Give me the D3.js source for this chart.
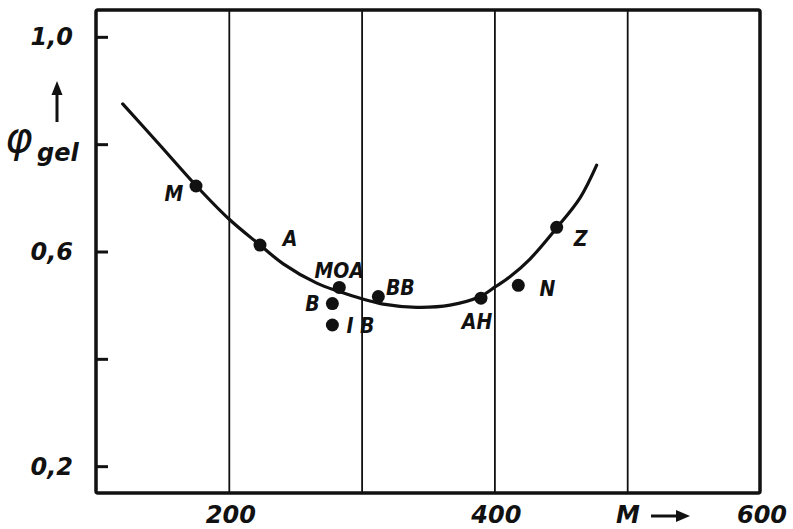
<!DOCTYPE html>
<html>
<head>
<meta charset="utf-8">
<script src="https://cdn.jsdelivr.net/npm/d3@7"></script>
<style>
  html, body { margin: 0; padding: 0; background: #fff; }
  svg { display: block; }
  text { font-family: "DejaVu Sans", sans-serif; fill: #111; }
</style>
</head>
<body>
<svg id="chart" width="793" height="529"></svg>
<script>
// Gel fraction vs. molecular weight
const sampleNames  = ["M", "A", "MOA", "B", "IB", "BB", "AH", "N", "Z"];
const sampleM      = [175.3, 223.5, 283.2, 278, 278, 312.6, 389.9, 418, 446.9];
const samplePhi    = [0.722, 0.612, 0.533, 0.503, 0.463, 0.516, 0.513, 0.537, 0.645];

// Fitted trend line
const trendM   = [120.1, 148.2, 175.3, 199.9, 223.5, 241.0, 266.2, 283.7, 300.1, 316.3, 341.5, 366.6, 389.2, 400.5, 411.7, 426.8, 446.9, 464.5, 477.0];
const trendPhi = [0.875, 0.798, 0.723, 0.661, 0.612, 0.577, 0.541, 0.525, 0.512, 0.502, 0.496, 0.500, 0.516, 0.534, 0.553, 0.586, 0.644, 0.700, 0.761];

const yTickValues = [0.2, 0.4, 0.6, 0.8, 1.0];
const yTickLabels = ["0,2", "", "0,6", "", "1,0"];
const xGridValues = [200, 300, 400, 500];
const xTickValues = [200, 400, 600];
const xTickLabels = ["200", "400", "600"];

// label offsets in px relative to each point
const labelDx = [-22, 30, 0, -20, 28, 22, -4, 29, 24];
const labelDy = [7, -7, -17, 0, 0, -9, 23, 3, 11];

const svg = d3.select("#chart");

const x = d3.scaleLinear().domain([100, 600]).range([96, 760]);
const y = d3.scaleLinear().domain([0.15, 1.05]).range([493, 10]);

// vertical grid lines
svg.append("g")
  .attr("transform", `translate(0,${y(0.15)})`)
  .call(d3.axisBottom(x).tickValues(xGridValues).tickSize(-(y(0.15) - y(1.05))).tickFormat(""))
  .call(g => g.select(".domain").remove())
  .call(g => g.selectAll(".tick line").attr("stroke", "#111").attr("stroke-width", 1.8));

// inward y ticks
svg.append("g")
  .attr("transform", `translate(${x(100)},0)`)
  .call(d3.axisLeft(y).tickValues(yTickValues).tickSize(-12).tickFormat(""))
  .call(g => g.select(".domain").remove())
  .call(g => g.selectAll(".tick line").attr("stroke", "#111").attr("stroke-width", 3));

// frame
svg.append("rect")
  .attr("x", x(100)).attr("y", y(1.05))
  .attr("width", x(600) - x(100)).attr("height", y(0.15) - y(1.05))
  .attr("fill", "none").attr("stroke", "#111").attr("stroke-width", 3.5)
  .attr("rx", 2);

// y tick labels
svg.append("g").selectAll("text")
  .data(yTickValues)
  .join("text")
  .attr("x", 73)
  .attr("y", d => y(d))
  .attr("dy", "0.36em")
  .attr("text-anchor", "end")
  .attr("font-size", 24)
  .attr("font-style", "italic")
  .attr("font-weight", "bold")
  .text((d, i) => yTickLabels[i]);

// x tick labels
svg.append("g").selectAll("text")
  .data(xTickValues)
  .join("text")
  .attr("x", d => x(d) + 2)
  .attr("y", 523)
  .attr("text-anchor", "middle")
  .attr("font-size", 24)
  .attr("font-style", "italic")
  .attr("font-weight", "bold")
  .text((d, i) => xTickLabels[i]);

// x axis title: M →
svg.append("text")
  .attr("x", 616).attr("y", 523)
  .attr("font-size", 24)
  .attr("font-style", "italic")
  .attr("font-weight", "bold")
  .text("M");
svg.append("line")
  .attr("x1", 651).attr("y1", 516).attr("x2", 678).attr("y2", 516)
  .attr("stroke", "#111").attr("stroke-width", 3);
svg.append("path")
  .attr("d", "M676,510 L690,516 L676,522 Z")
  .attr("fill", "#111");

// y axis title: φ_gel with arrow
svg.append("text")
  .attr("x", 5).attr("y", 152)
  .attr("font-size", 42)
  .attr("font-style", "italic")
  .text("φ");
svg.append("text")
  .attr("x", 37).attr("y", 161)
  .attr("font-size", 24)
  .attr("font-style", "italic")
  .attr("font-weight", "bold")
  .text("gel");
svg.append("line")
  .attr("x1", 57).attr("y1", 122).attr("x2", 57).attr("y2", 92)
  .attr("stroke", "#111").attr("stroke-width", 3);
svg.append("path")
  .attr("d", "M51.5,95 L57,81 L62.5,95 Z")
  .attr("fill", "#111");

// trend curve
const trend = trendM.map((m, i) => [m, trendPhi[i]]);
svg.append("path")
  .datum(trend)
  .attr("fill", "none")
  .attr("stroke", "#111")
  .attr("stroke-width", 3.2)
  .attr("stroke-linecap", "round")
  .attr("d", d3.line().x(d => x(d[0])).y(d => y(d[1])).curve(d3.curveCatmullRom.alpha(0.5)));

// sample points
const samples = sampleNames.map((n, i) => ({ name: n, m: sampleM[i], phi: samplePhi[i], dx: labelDx[i], dy: labelDy[i] }));
svg.append("g").selectAll("circle")
  .data(samples)
  .join("circle")
  .attr("cx", d => x(d.m))
  .attr("cy", d => y(d.phi))
  .attr("r", 6.5)
  .attr("fill", "#111");

svg.append("g").selectAll("text")
  .data(samples)
  .join("text")
  .attr("x", d => x(d.m) + d.dx)
  .attr("y", d => y(d.phi) + d.dy)
  .attr("dy", "0.36em")
  .attr("text-anchor", "middle")
  .attr("font-size", 21)
  .attr("font-style", "italic")
  .attr("font-weight", "bold")
  .attr("font-stretch", "condensed")
  .style("font-family", "'DejaVu Sans Condensed', 'DejaVu Sans', sans-serif")
  .text(d => d.name === "IB" ? "I B" : d.name);
</script>
</body>
</html>
